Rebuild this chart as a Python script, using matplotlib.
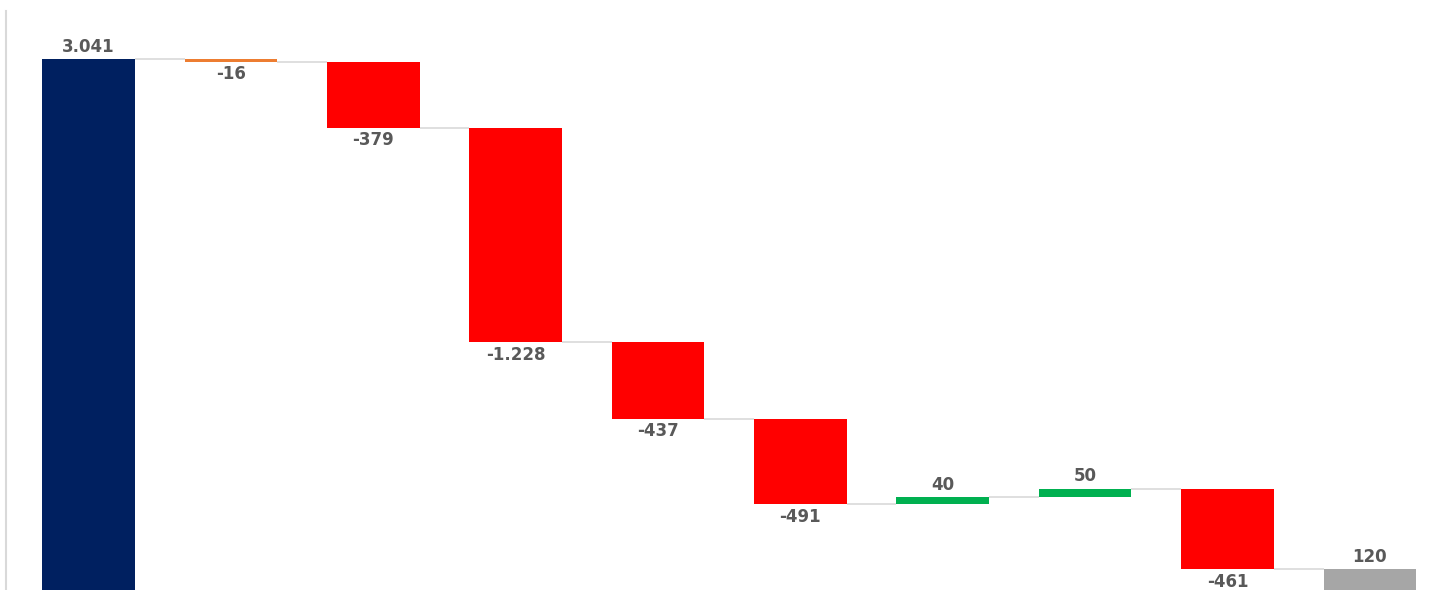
import matplotlib
matplotlib.use("Agg")
import matplotlib.pyplot as plt
import numpy as np

categories = ["Start", "C1", "C2", "C3", "C4", "C5", "C6", "C7", "C8", "End"]
values = [3041, -16, -379, -1228, -437, -491, 40, 50, -461, 120]
kinds = ["total", "delta", "delta", "delta", "delta", "delta", "delta", "delta", "delta", "total"]
colors = ["#002060", "#ED7D31", "#FF0000", "#FF0000", "#FF0000", "#FF0000",
          "#00B050", "#00B050", "#FF0000", "#A6A6A6"]

def fmt(v):
    s = f"{abs(v):,}".replace(",", ".")
    return ("-" if v < 0 else "") + s

fig = plt.figure(figsize=(14.31, 5.9), dpi=100)
ax = fig.add_axes([6/1431, 0, 1 - 6/1431, (590-11)/590])

x = np.arange(len(values))
width = 0.65
bottoms, tops = [], []
running = 0
for i, (v, k) in enumerate(zip(values, kinds)):
    if k == "total":
        b, t = 0, v
        running = v
    else:
        start = running
        running = start + v
        b, t = min(start, running), max(start, running)
    bottoms.append(b)
    tops.append(t)
    ax.bar(x[i], t - b, bottom=b, width=width, color=colors[i], zorder=3)

# connectors
levels = []
running = 0
for v, k in zip(values, kinds):
    running = v if k == "total" else running + v
    levels.append(running)
for i in range(len(values) - 1):
    ax.plot([x[i] + width/2, x[i+1] - width/2], [levels[i], levels[i]],
            color="#D9D9D9", lw=1.2, zorder=2, solid_capstyle="butt")

# labels
for i, v in enumerate(values):
    if v >= 0:
        ax.annotate(fmt(v), (x[i], tops[i]), xytext=(0, 2.5), textcoords="offset points",
                    ha="center", va="bottom", fontsize=12, fontweight="bold", color="#595959")
    else:
        ax.annotate(fmt(v), (x[i], bottoms[i]), xytext=(0, -2.5), textcoords="offset points",
                    ha="center", va="top", fontsize=12, fontweight="bold", color="#595959")

ax.set_xlim(-0.58, 9.43)
ax.set_ylim(0, 3316)
for s in ["top", "right", "bottom"]:
    ax.spines[s].set_visible(False)
ax.spines["left"].set_color("#D9D9D9")
ax.spines["left"].set_linewidth(1.5)
ax.set_xticks([])
ax.set_yticks([])

fig.savefig("out.png", dpi=100)
